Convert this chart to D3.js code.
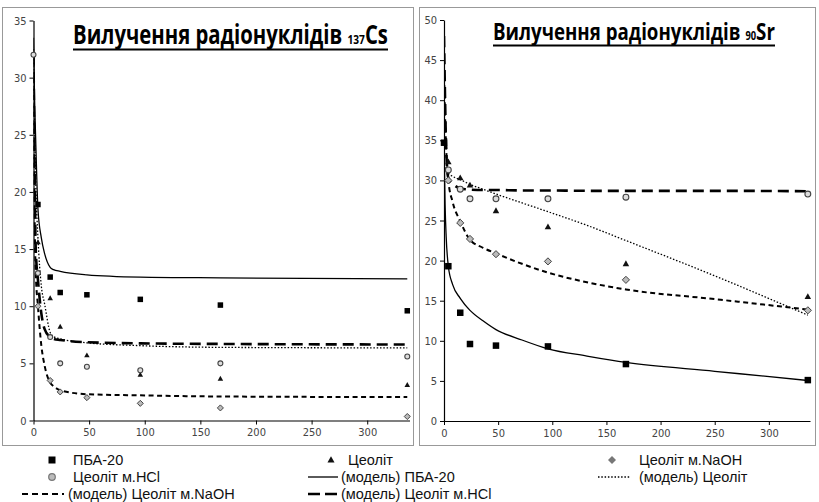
<!DOCTYPE html>
<html>
<head>
<meta charset="utf-8">
<script src="https://cdn.jsdelivr.net/npm/d3@7"></script>
<style>
  body { margin: 0; background: #fff; }
  svg { display: block; }
  .tick text { font-family: "Liberation Sans Narrow", "DejaVu Sans Condensed", sans-serif; font-size: 11px; fill: #444; }
  .legend text { font-family: "Liberation Sans", Arial, sans-serif; font-size: 14.5px; fill: #111; }
</style>
</head>
<body>
<svg id="chart" width="819" height="502"></svg>
<script>
// sampling times, hours
var hours = [0, 4, 15, 24, 48, 96, 168, 336];

// 137Cs, measured
var csPba  = [null, 18.9, 12.55, 11.2, 11.0, 10.6, 10.1, 9.6];
var csZeo  = [null, 15.6, 10.7, 8.2, 5.7, 4.0, 3.65, 3.1];
var csNaoh = [null, 10.0, 3.5, 2.5, 2.0, 1.5, 1.1, 0.35];
var csHcl  = [32.0, 12.9, 7.3, 5.0, 4.7, 4.4, 5.0, 5.6];

// 137Cs, model curves
var csModelHours = [0, 1, 2, 4, 7, 10, 15, 18, 24, 48, 96, 168, 336];
var csPbaModel   = [33.5, 28, 24.5, 18.5, 16.0, 14.6, 13.4, 13.2, 13.05, 12.75, 12.55, 12.48, 12.4];
var csZeoModel   = [32.5, 26, 21, 16, 11.8, 10.2, 7.7, 7.35, 7.15, 6.8, 6.55, 6.4, 6.35];
var csHclModel   = [32, 22, 15, 12.3, 9.4, 8.0, 7.3, 7.15, 7.05, 6.85, 6.75, 6.7, 6.65];
var csNaohModel  = [30, 18, 13, 10, 6.6, 4.8, 3.3, 3.0, 2.65, 2.3, 2.2, 2.1, 2.05];

// 90Sr, measured
var srPba  = [34.7, 19.3, 13.5, 9.6, 9.4, 9.3, 7.1, 5.1];
var srZeo  = [null, 32.3, 30.3, 29.4, 26.2, 24.2, 19.6, 15.5];
var srNaoh = [null, 30.0, 24.7, 22.7, 20.8, 19.9, 17.6, 13.8];
var srHcl  = [null, 31.3, 28.9, 27.7, 27.7, 27.7, 27.9, 28.3];

// 90Sr, model curves
var srModelHours = [0, 1, 2, 4, 8, 15, 24, 36, 48, 72, 96, 132, 168, 250, 336];
var srPbaModel   = [34.7, 27, 23, 19.3, 17.0, 15.3, 13.8, 12.5, 11.4, 10.1, 9.0, 8.1, 7.3, 6.2, 5.05];
var srZeoModel   = [32, 31.6, 31.3, 30.9, 30.5, 30.1, 29.5, 28.9, 28.3, 27.2, 26.1, 24.4, 22.5, 18.1, 13.2];
var srHclModel   = [48, 40, 34, 30.3, 29.6, 29.0, 28.85, 28.8, 28.8, 28.75, 28.75, 28.7, 28.7, 28.7, 28.65];
var srNaohModel  = [44, 38, 34, 30.0, 27.3, 24.9, 22.6, 21.6, 20.9, 19.6, 18.5, 17.3, 16.4, 15.2, 13.9];

var xTicks = [0, 50, 100, 150, 200, 250, 300];
var csTicks = [0, 5, 10, 15, 20, 25, 30, 35];
var srTicks = [0, 5, 10, 15, 20, 25, 30, 35, 40, 45, 50];

var seriesNames = ["ПБА-20", "Цеоліт", "Цеоліт м.NaOH", "Цеоліт м.HCl"];
var modelNames = ["(модель) ПБА-20", "(модель) Цеоліт", "(модель) Цеоліт м.NaOH", "(модель) Цеоліт м.HCl"];

var svg = d3.select("#chart");

// panel frames
svg.append("rect").attr("x", 2.5).attr("y", 7.5).attr("width", 411).attr("height", 438)
  .attr("fill", "none").attr("stroke", "#999");
svg.append("rect").attr("x", 419.5).attr("y", 7.5).attr("width", 396).attr("height", 438)
  .attr("fill", "none").attr("stroke", "#999");

var lineStyles = [
  { dash: null, width: 1.3 },        // ПБА-20
  { dash: "1.5,1.8", width: 1.3 },   // Цеоліт
  { dash: "5,3.5", width: 2 },       // NaOH
  { dash: "11,6", width: 2.6 }       // HCl
];

function marker(g, kind, x, y, s) {
  if (kind == 0) {
    g.append("rect").attr("x", x - s / 2).attr("y", y - s / 2).attr("width", s).attr("height", s)
      .attr("fill", "#000");
  } else if (kind == 1) {
    var h = s * 0.9;
    g.append("path").attr("d", "M" + x + "," + (y - h * 0.6) + "L" + (x + s / 2) + "," + (y + h * 0.4) +
      "L" + (x - s / 2) + "," + (y + h * 0.4) + "Z").attr("fill", "#111");
  } else if (kind == 2) {
    var r = s * 0.55;
    g.append("path").attr("d", "M" + x + "," + (y - r) + "L" + (x + r) + "," + y + "L" + x + "," + (y + r) +
      "L" + (x - r) + "," + y + "Z").attr("fill", "#bbb").attr("stroke", "#444").attr("stroke-width", 1);
  } else {
    g.append("circle").attr("cx", x).attr("cy", y).attr("r", s * 0.45)
      .attr("fill", "#ddd").attr("stroke", "#444").attr("stroke-width", 1.1);
  }
}

function drawPanel(p) {
  var x = d3.scaleLinear().domain([0, 338]).range(p.xRange);
  var y = d3.scaleLinear().domain([0, p.yMax]).range(p.yRange);
  var g = svg.append("g");

  g.append("g").attr("transform", "translate(0," + p.yRange[0] + ")")
    .call(d3.axisBottom(x).tickValues(xTicks).tickSize(4).tickSizeOuter(0).tickPadding(4));
  g.append("g").attr("transform", "translate(" + p.xRange[0] + ",0)")
    .call(d3.axisLeft(y).tickValues(p.yTicks).tickSize(4).tickSizeOuter(0).tickPadding(3));
  g.selectAll(".domain").attr("stroke", "#000").attr("stroke-width", 1.2);
  g.selectAll(".tick line").attr("stroke", "#000");

  var clipId = "clip" + p.id;
  svg.append("clipPath").attr("id", clipId).append("rect")
    .attr("x", p.xRange[0]).attr("y", p.yRange[1]).attr("width", p.xRange[1] - p.xRange[0] + 2)
    .attr("height", p.yRange[0] - p.yRange[1]);
  var plot = g.append("g").attr("clip-path", "url(#" + clipId + ")");

  var line = d3.line()
    .defined(function(d) { return d[1] != null; })
    .x(function(d) { return x(d[0]); })
    .y(function(d) { return y(d[1]); })
    .curve(d3.curveMonotoneX);

  p.models.forEach(function(vals, i) {
    plot.append("path")
      .datum(p.modelHours.map(function(h, k) { return [h, vals[k]]; }))
      .attr("fill", "none").attr("stroke", "#000")
      .attr("stroke-width", lineStyles[i].width)
      .attr("stroke-dasharray", lineStyles[i].dash)
      .attr("d", line);
  });

  var pts = g.append("g");
  p.series.forEach(function(vals, i) {
    hours.forEach(function(h, k) {
      if (vals[k] == null) return;
      marker(pts, i, x(h), y(vals[k]), p.markerSize);
    });
  });

  // title, squeezed horizontally to the width it has in the original
  var tg = g.append("g");
  var t = tg.append("text")
    .attr("font-family", "'Open Sans', 'Noto Sans', sans-serif").attr("font-weight", "bold")
    .attr("font-size", p.titleSize).attr("fill", "#000");
  t.append("tspan").text("Вилучення  радіонуклідів ");
  t.append("tspan").attr("font-size", p.titleSize * 0.5).text(p.isotope);
  t.append("tspan").text(p.element);
  var w = t.node().getComputedTextLength();
  tg.attr("transform", "translate(" + p.titleX + "," + p.titleY + ") scale(" + (p.titleW / w) + ",1)");
  g.append("line").attr("x1", p.titleX).attr("x2", p.titleX + p.titleW)
    .attr("y1", p.titleY + 5.5).attr("y2", p.titleY + 5.5).attr("stroke", "#000").attr("stroke-width", 2.2);
}

drawPanel({
  id: "cs", xRange: [33.5, 409.5], yRange: [420.5, 20.5], yMax: 35, yTicks: csTicks,
  series: [csPba, csZeo, csNaoh, csHcl],
  modelHours: csModelHours, models: [csPbaModel, csZeoModel, csNaohModel, csHclModel],
  markerSize: 5.5, titleX: 73, titleY: 44, titleSize: 26, titleW: 315, isotope: "137", element: "Cs"
});
drawPanel({
  id: "sr", xRange: [444, 810], yRange: [421, 20], yMax: 50, yTicks: srTicks,
  series: [srPba, srZeo, srNaoh, srHcl],
  modelHours: srModelHours, models: [srPbaModel, srZeoModel, srNaohModel, srHclModel],
  markerSize: 6.5, titleX: 493, titleY: 40, titleSize: 24, titleW: 282, isotope: "90", element: "Sr"
});

// legend
var legend = svg.append("g").attr("class", "legend");
var legendItems = [
  { type: "m", kind: 0, name: seriesNames[0], mx: 52, tx: 73, row: 0 },
  { type: "m", kind: 1, name: seriesNames[1], mx: 331, tx: 348, row: 0 },
  { type: "m", kind: 2, name: seriesNames[2], mx: 612, tx: 639, row: 0 },
  { type: "m", kind: 3, name: seriesNames[3], mx: 52, tx: 73, row: 1 },
  { type: "l", kind: 0, name: modelNames[0], x1: 308, x2: 338, tx: 341, row: 1 },
  { type: "l", kind: 1, name: modelNames[1], x1: 598, x2: 630, tx: 639, row: 1 },
  { type: "l", kind: 2, name: modelNames[2], x1: 22, x2: 64, tx: 68, row: 2 },
  { type: "l", kind: 3, name: modelNames[3], x1: 308, x2: 338, tx: 341, row: 2 }
];
var rowY = [460, 477, 494];
legendItems.forEach(function(it) {
  var cy = rowY[it.row];
  if (it.type == "m") {
    if (it.kind == 2) {
      legend.append("path").attr("d", "M" + it.mx + "," + (cy - 4) + "l4,4l-4,4l-4,-4z").attr("fill", "#777");
    } else if (it.kind == 3) {
      legend.append("circle").attr("cx", it.mx).attr("cy", cy).attr("r", 3.3)
        .attr("fill", "#bbb").attr("stroke", "#777").attr("stroke-width", 1.2);
    } else {
      marker(legend, it.kind, it.mx, cy, 7);
    }
  } else {
    legend.append("line").attr("x1", it.x1).attr("x2", it.x2).attr("y1", cy).attr("y2", cy)
      .attr("stroke", "#000").attr("stroke-width", lineStyles[it.kind].width)
      .attr("stroke-dasharray", it.kind == 2 ? "6,4" : (it.kind == 3 ? "12,5" : lineStyles[it.kind].dash));
  }
  legend.append("text").attr("x", it.tx).attr("y", cy + 5).text(it.name);
});
</script>
</body>
</html>
